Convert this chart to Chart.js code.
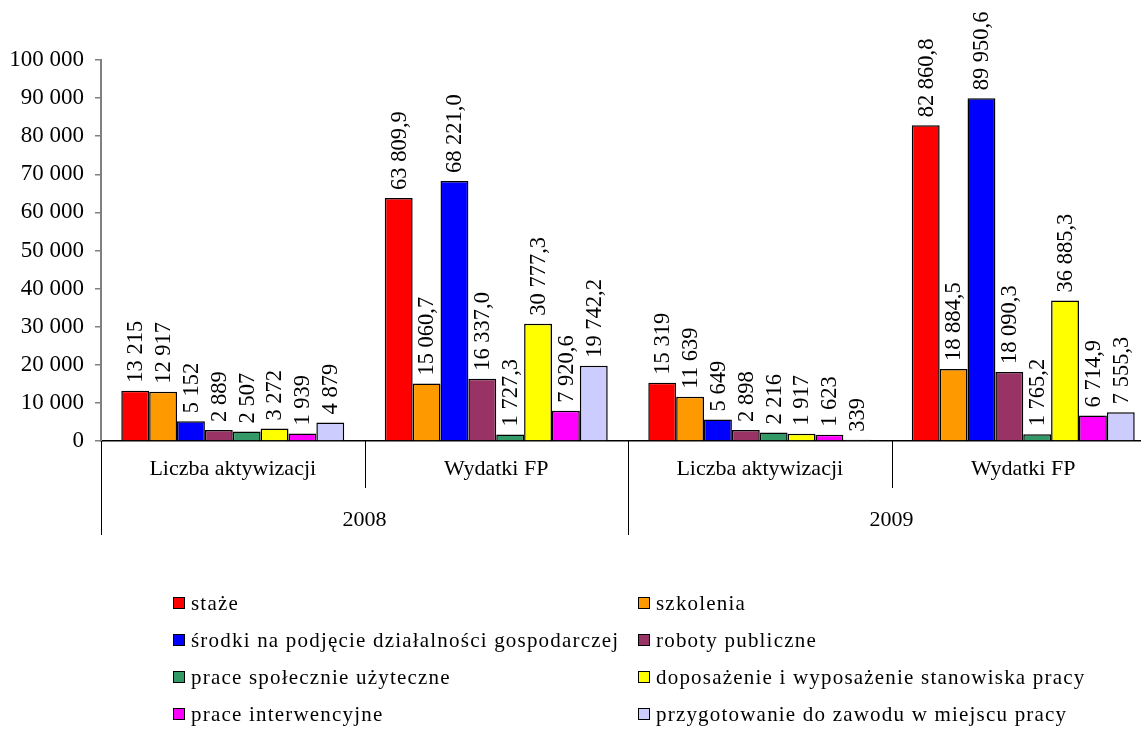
<!DOCTYPE html>
<html>
<head>
<meta charset="utf-8">
<script src="https://cdn.jsdelivr.net/npm/chart.js@4"></script>
<style>
  html, body { margin: 0; padding: 0; background: #fff; overflow: hidden; width: 1141px; height: 731px; }
  #wrap { position: absolute; left: 0; top: 0; width: 1160px; height: 731px; }
  #legend { position: absolute; left: 0; top: 0; width: 1141px; height: 731px; pointer-events: none;
            font-family: "Liberation Serif", serif; font-size: 21px; letter-spacing: 1.2px; color: #000; }
  .item { position: absolute; white-space: nowrap; display: flex; align-items: center; height: 26px; }
  .box { width: 10px; height: 10px; border: 1.5px solid #000; margin-right: 6px; flex: none; }
</style>
</head>
<body>
<div id="wrap"><canvas id="c"></canvas></div>
<div id="legend"></div>
<script>
// ---- data ----
const categories = ["Liczba aktywizacji", "Wydatki FP", "Liczba aktywizacji", "Wydatki FP"];
const years = ["2008", "2009"];
const decimals = [0, 1, 0, 1];
const seriesNames = [
  "staże",
  "szkolenia",
  "środki na podjęcie działalności gospodarczej",
  "roboty publiczne",
  "prace społecznie użyteczne",
  "doposażenie i wyposażenie stanowiska pracy",
  "prace interwencyjne",
  "przygotowanie do zawodu w miejscu pracy"
];
const staze        = [13215, 63809.9, 15319, 82860.8];
const szkolenia    = [12917, 15060.7, 11639, 18884.5];
const srodki       = [5152, 68221.0, 5649, 89950.6];
const roboty       = [2889, 16337.0, 2898, 18090.3];
const pracePU      = [2507, 1727.3, 2216, 1765.2];
const doposazenie  = [3272, 30777.3, 1917, 36885.3];
const interwencyjne= [1939, 7920.6, 1623, 6714.9];
const przygotowanie= [4879, 19742.2, 339, 7555.3];
const seriesValues = [staze, szkolenia, srodki, roboty, pracePU, doposazenie, interwencyjne, przygotowanie];
const colors = ["#FF0000", "#FF9900", "#0000FF", "#993366", "#339966", "#FFFF00", "#FF00FF", "#CCCCFF"];
const yTicks = [0, 10000, 20000, 30000, 40000, 50000, 60000, 70000, 80000, 90000, 100000];

function fmt(n, d) {
  const s = n.toFixed(d).split('.');
  s[0] = s[0].replace(/\B(?=(\d{3})+(?!\d))/g, ' ');
  return s.join(',');
}

const FONT = '"Liberation Serif", serif';

const dataLabels = {
  id: 'dataLabels',
  afterDatasetsDraw(chart) {
    const ctx = chart.ctx;
    ctx.save();
    ctx.font = '22.5px ' + FONT;
    ctx.fillStyle = '#000';
    ctx.textAlign = 'left';
    ctx.textBaseline = 'middle';
    chart.data.datasets.forEach((ds, di) => {
      const meta = chart.getDatasetMeta(di);
      meta.data.forEach((el, i) => {
        const txt = fmt(ds.data[i], decimals[i]);
        ctx.save();
        ctx.translate(el.x + 1, el.y - 8);
        ctx.rotate(-Math.PI / 2);
        ctx.fillText(txt, 0, 0);
        ctx.restore();
      });
    });
    ctx.restore();
  }
};

const xLabels = {
  id: 'xLabels',
  afterDraw(chart) {
    const ctx = chart.ctx;
    const xs = chart.scales.x;
    const bottom = chart.chartArea.bottom;
    const n = categories.length;
    const w = (xs.getPixelForValue(1) - xs.getPixelForValue(0));
    ctx.save();
    ctx.strokeStyle = '#000';
    ctx.lineWidth = 1;
    for (let i = 0; i <= n; i++) {
      const bx = xs.getPixelForValue(0) - w / 2 + i * w;
      const len = (i % 2 === 0) ? 94 : 47;
      ctx.beginPath();
      ctx.moveTo(Math.round(bx) + 0.5, bottom);
      ctx.lineTo(Math.round(bx) + 0.5, bottom + len);
      ctx.stroke();
    }
    ctx.fillStyle = '#000';
    ctx.font = '22px ' + FONT;
    ctx.textAlign = 'center';
    ctx.textBaseline = 'middle';
    categories.forEach((c, i) => {
      ctx.fillText(c, xs.getPixelForValue(i), bottom + 28);
    });
    years.forEach((y, j) => {
      const cx = (xs.getPixelForValue(2 * j) + xs.getPixelForValue(2 * j + 1)) / 2;
      ctx.fillText(y, cx, bottom + 79);
    });
    ctx.restore();
  }
};

const chart = new Chart(document.getElementById('c'), {
  type: 'bar',
  data: {
    labels: categories,
    datasets: seriesNames.map((name, i) => ({
      label: name,
      data: seriesValues[i],
      backgroundColor: colors[i],
      borderColor: '#000',
      borderWidth: 1.5,
      borderSkipped: 'bottom',
      categoryPercentage: 0.846,
      barPercentage: 1.0
    }))
  },
  options: {
    responsive: true,
    maintainAspectRatio: false,
    animation: false,
    devicePixelRatio: 1,
    layout: { padding: { left: 0, right: 5, top: 60, bottom: 190 } },
    plugins: { legend: { display: false }, tooltip: { enabled: false } },
    scales: {
      x: {
        grid: { display: false },
        border: { display: true, color: '#000', width: 1.5 },
        ticks: { display: false },
        afterFit(s) { s.height = 100; }
      },
      y: {
        min: 0, max: 100000,
        afterBuildTicks(s) { s.ticks = yTicks.map(v => ({ value: v })); },
        grid: { drawOnChartArea: false, drawTicks: true, tickLength: 6, color: '#808080', lineWidth: 1.5 },
        border: { display: true, color: '#808080', width: 2 },
        ticks: {
          color: '#000',
          padding: 11,
          font: { family: FONT, size: 23 },
          callback: v => fmt(v, 0)
        },
        afterFit(s) { s.width = 101; }
      }
    }
  },
  plugins: [dataLabels, xLabels]
});

// ---- legend (two columns) ----
const leg = document.getElementById('legend');
const colX = [173, 638];
const rowY = [603, 640, 677, 714];
seriesNames.forEach((name, i) => {
  const d = document.createElement('div');
  d.className = 'item';
  d.style.left = colX[i % 2] + 'px';
  d.style.top = (rowY[Math.floor(i / 2)] - 13) + 'px';
  const b = document.createElement('span');
  b.className = 'box';
  b.style.background = colors[i];
  const t = document.createElement('span');
  t.textContent = name;
  d.appendChild(b); d.appendChild(t);
  leg.appendChild(d);
});
</script>
</body>
</html>
